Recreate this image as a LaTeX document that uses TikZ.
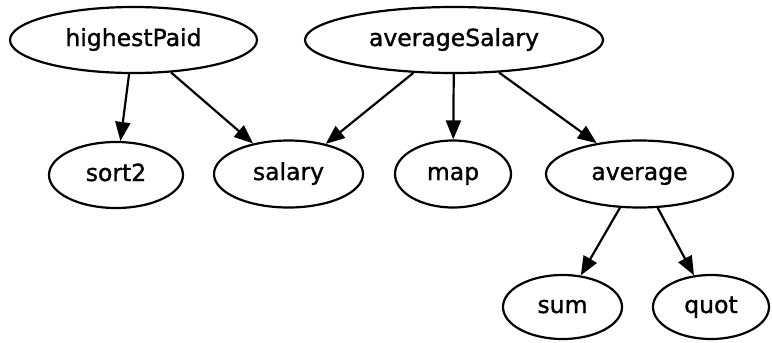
\documentclass[tikz,border=0pt]{standalone}
\usepackage{fontspec}
\setmainfont{DejaVu Sans}
\newfontfamily\gfont{DejaVu Sans}[FakeBold=1.3]
\usetikzlibrary{shapes.geometric,arrows.meta}
\begin{document}
\begin{tikzpicture}[x=1pt,y=-1pt,
  gnode/.style={draw, ellipse, line width=2.2pt, inner sep=0pt, text height=17pt, text depth=5pt, font=\gfont\fontsize{23.5}{26}\selectfont},
  edge/.style={line width=2.2pt, -{Triangle[length=19pt,width=15pt]}}]
\useasboundingbox (0,0) rectangle (772,343);
\node[gnode, minimum width=247pt, minimum height=66pt] (hp) at (133.5,40) {highestPaid};
\node[gnode, minimum width=298pt, minimum height=66pt] (as) at (454,40) {averageSalary};
\node[gnode, minimum width=134pt, minimum height=66pt] (s2) at (116,175) {sort2};
\node[gnode, minimum width=149pt, minimum height=67pt] (sal) at (288.5,174) {salary};
\node[gnode, minimum width=116pt, minimum height=67pt] (map) at (453,174) {map};
\node[gnode, minimum width=187pt, minimum height=67pt] (avg) at (639.5,174) {average};
\node[gnode, minimum width=119pt, minimum height=64pt] (sum) at (562.5,307) {sum};
\node[gnode, minimum width=116pt, minimum height=64pt] (quot) at (711,307) {quot};
\draw[edge] (hp) -- (s2);
\draw[edge] (hp) -- (sal);
\draw[edge] (as) -- (sal);
\draw[edge] (as) -- (map);
\draw[edge] (as) -- (avg);
\draw[edge] (avg) -- (sum);
\draw[edge] (avg) -- (quot);
\end{tikzpicture}
\end{document}
